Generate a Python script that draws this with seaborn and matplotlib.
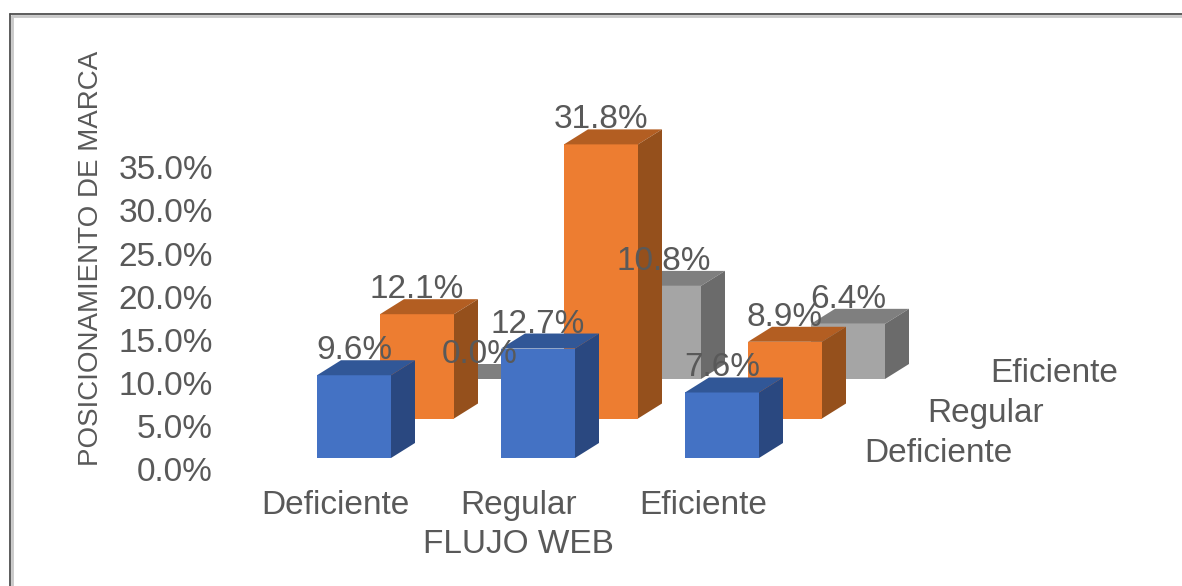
import matplotlib
matplotlib.use("Agg")
import matplotlib.pyplot as plt
from matplotlib.lines import Line2D
from matplotlib.patches import Polygon
import pandas as pd
import seaborn as sns

# Data: share of respondents per level of web flow and brand positioning
flujo_web = ["Deficiente", "Regular", "Eficiente"]
serie_deficiente = [9.6, 12.7, 7.6]
serie_regular = [12.1, 31.8, 8.9]
serie_eficiente = [0.0, 10.8, 6.4]
niveles_marca = ["Deficiente", "Regular", "Eficiente"]
ticks_y = [0, 5, 10, 15, 20, 25, 30, 35]

# Face colours of each cuboid row: front, top, side
colores = {
    "Deficiente": ("#4472C4", "#315797", "#2A4880"),
    "Regular": ("#ED7D31", "#B35E22", "#95501C"),
    "Eficiente": ("#A5A5A5", "#7F7F7F", "#6B6B6B"),
}

W, H = 1182, 586
TEXTO = "#595959"
TAM = 24

sns.set_theme(style="white")
plt.rcParams["font.family"] = ["Liberation Sans", "DejaVu Sans"]

fig = plt.figure(figsize=(W / 100, H / 100), dpi=100, facecolor="white")

# Axis scale: one category is 184 px wide, one percentage point 8.62 px tall
ESC_X, ESC_Y = 184.0, 8.62
izq, der, base, alto = 218, 1100, 469, 362
ax = fig.add_axes([izq / W, (H - base) / H, (der - izq) / W, alto / H])
ax.patch.set_alpha(0)

# Oblique projection in data units
ANCHO = 74 / ESC_X
LADO_X, LADO_Y = 24 / ESC_X, 15 / ESC_Y
FILA_X, FILA_Y = 63 / ESC_X, 39.5 / ESC_Y
ORIGEN_X, ORIGEN_Y = 19 / ESC_X, 11 / ESC_Y

valores = {"Deficiente": serie_deficiente, "Regular": serie_regular, "Eficiente": serie_eficiente}
etiquetas = []

# Back row first so nearer cuboids overlap it
for fila in reversed(range(len(niveles_marca))):
    nivel = niveles_marca[fila]
    frente, tapa, lado = colores[nivel]
    suelo = ORIGEN_Y + fila * FILA_Y
    centros = [i + ORIGEN_X + fila * FILA_X for i in range(len(flujo_web))]
    tabla = pd.DataFrame({"x": centros, "y": valores[nivel]})
    sns.barplot(data=tabla, x="x", y="y", orient="x", native_scale=True, width=ANCHO,
                color=frente, saturation=1, errorbar=None, bottom=suelo,
                linewidth=0, ax=ax, zorder=2)
    for c, v in zip(centros, valores[nivel]):
        x0, x1 = c - ANCHO / 2, c + ANCHO / 2
        y0, y1 = suelo, suelo + v
        ax.add_patch(Polygon([(x0, y1), (x1, y1), (x1 + LADO_X, y1 + LADO_Y), (x0 + LADO_X, y1 + LADO_Y)],
                             closed=True, facecolor=tapa, edgecolor="none", zorder=2))
        ax.add_patch(Polygon([(x1, y0), (x1 + LADO_X, y0 + LADO_Y), (x1 + LADO_X, y1 + LADO_Y), (x1, y1)],
                             closed=True, facecolor=lado, edgecolor="none", zorder=2))
        etiquetas.append((c, y1 + 24.5 / ESC_Y, f"{v:.1f}%"))

for x, y, texto in etiquetas:
    ax.text(x, y, texto, ha="center", va="center", color=TEXTO, fontsize=TAM, zorder=5)

# Depth axis labels follow the same row offsets
for fila, nivel in enumerate(niveles_marca):
    ax.text(2.875 + fila * FILA_X, 16 / ESC_Y + fila * FILA_Y, nivel,
            ha="left", va="center", color=TEXTO, fontsize=TAM, zorder=5)

ax.set_xlim((izq - 335) / ESC_X, (der - 335) / ESC_X)
ax.set_ylim(0, alto / ESC_Y)
ax.set_xticks(range(len(flujo_web)), flujo_web)
ax.set_yticks(ticks_y, [f"{t:.1f}%" for t in ticks_y])
ax.tick_params(axis="x", length=0, pad=15, labelsize=TAM, labelcolor=TEXTO)
ax.tick_params(axis="y", length=0, pad=3.6, labelsize=TAM, labelcolor=TEXTO)
sns.despine(ax=ax, left=True, bottom=True)

ax.set_xlabel("FLUJO WEB", fontsize=TAM, color=TEXTO, va="top")
ax.xaxis.set_label_coords((518 - izq) / (der - izq), -(529 - base) / alto)
ax.set_ylabel("POSICIONAMIENTO DE MARCA", fontsize=20, color=TEXTO, va="center")
ax.yaxis.set_label_coords((91 - izq) / (der - izq), (base - 258) / alto)

# Chart frame: its top and left edges remain in view
for color, grosor, d in (("#C8C8C8", 2.0, 1.6), ("#4F4F4F", 1.3, 0.0)):
    fig.add_artist(Line2D([(10 + d) / W, (10 + d) / W], [0, 1 - (14 + d) / H], color=color, lw=grosor))
    fig.add_artist(Line2D([(10 + d) / W, 1], [1 - (14 + d) / H, 1 - (14 + d) / H], color=color, lw=grosor))

fig.savefig("out.png", dpi=100, facecolor="white")
